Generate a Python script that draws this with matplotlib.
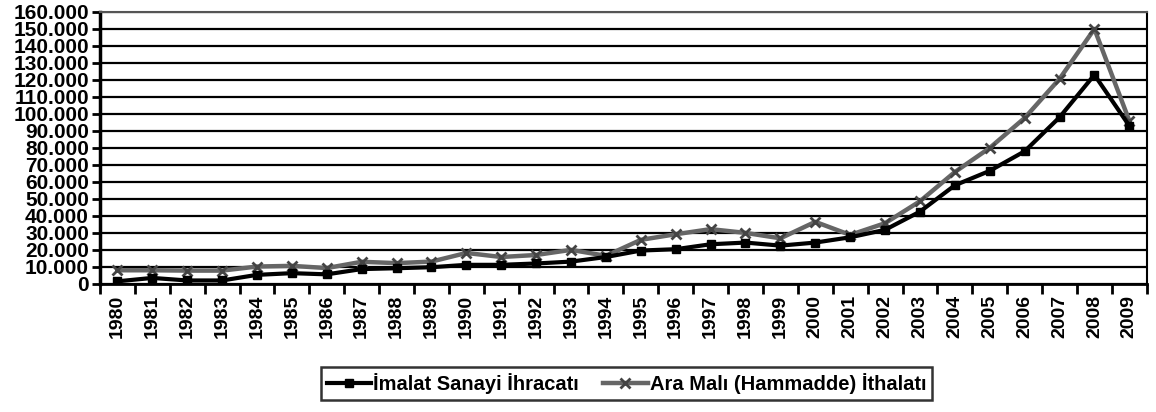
import numpy as np
import matplotlib.pyplot as plt
from matplotlib.ticker import FuncFormatter, FixedLocator

plt.rcParams['font.family'] = ['Liberation Sans', 'DejaVu Sans']
plt.rcParams['font.weight'] = 'bold'

# data (million $)
years = [str(y) for y in range(1980, 2010)]
imalat = [1500, 3500, 2000, 2000, 5300, 6300, 5600, 8700, 9200, 9800,
          11200, 11200, 12000, 13100, 15800, 19600, 20400, 23300, 24300, 22500,
          24300, 27400, 31800, 42500, 58000, 66500, 78000, 98000, 123000, 93000]
ara_mali = [8000, 8000, 7800, 7800, 10200, 10600, 9300, 13000, 12200, 13100,
            18200, 15800, 17000, 20000, 16500, 25900, 29200, 32200, 30000, 26800,
            36500, 28800, 35700, 48600, 65800, 80000, 97600, 120600, 150000, 96000]
labels = ['İmalat Sanayi İhracatı', 'Ara Malı (Hammadde) İthalatı']

fig = plt.figure(figsize=(11.56, 4.12), dpi=100)
ax = fig.add_axes([0.0865, 0.311, 0.9055, 0.66])

x = np.arange(len(years))

# grid lines first so the series sit on top
ax.set_yticks(np.arange(0, 160001, 10000))
ax.yaxis.grid(True, color='black', linewidth=1.6)
ax.set_axisbelow(True)

ax.plot(x, imalat, color='black', linewidth=3, marker='s', markersize=6,
        label=labels[0], zorder=4)
ax.plot(x, ara_mali, color='#666666', linewidth=3.2, marker='x', markersize=6.5,
        markeredgewidth=2, markeredgecolor='#444444', label=labels[1], zorder=3)

ax.set_xlim(-0.5, len(years) - 0.5)
ax.set_ylim(0, 160000)

# year labels centred, ticks on category boundaries
ax.set_xticks(x)
ax.set_xticklabels(years, rotation=90, fontsize=14, fontweight='bold')
ax.tick_params(axis='x', which='major', length=0, pad=8)
ax.xaxis.set_minor_locator(FixedLocator(np.arange(-0.5, len(years), 1.0)))
ax.tick_params(axis='x', which='minor', length=7, width=2, direction='out')

ax.yaxis.set_major_formatter(FuncFormatter(lambda v, p: f'{int(v):,}'.replace(',', '.')))
ax.tick_params(axis='y', length=6, width=2, direction='out', labelsize=15, pad=2)
for lab in ax.get_yticklabels():
    lab.set_fontweight('bold')

ax.spines['left'].set_linewidth(2.5)
ax.spines['bottom'].set_linewidth(2)
ax.spines['right'].set_linewidth(1.5)
ax.spines['top'].set_linewidth(1.5)
ax.spines['top'].set_color('#555555')

leg = fig.legend(loc='center', bbox_to_anchor=(0.542, 0.07), ncol=2,
                 frameon=True, fancybox=False, edgecolor='black',
                 fontsize=14.5, handlelength=2.2, columnspacing=1.2,
                 borderpad=0.3, handletextpad=0.1)
leg.get_frame().set_linewidth(1.8)
for t in leg.get_texts():
    t.set_fontweight('bold')

fig.savefig('out.png', dpi=100)
